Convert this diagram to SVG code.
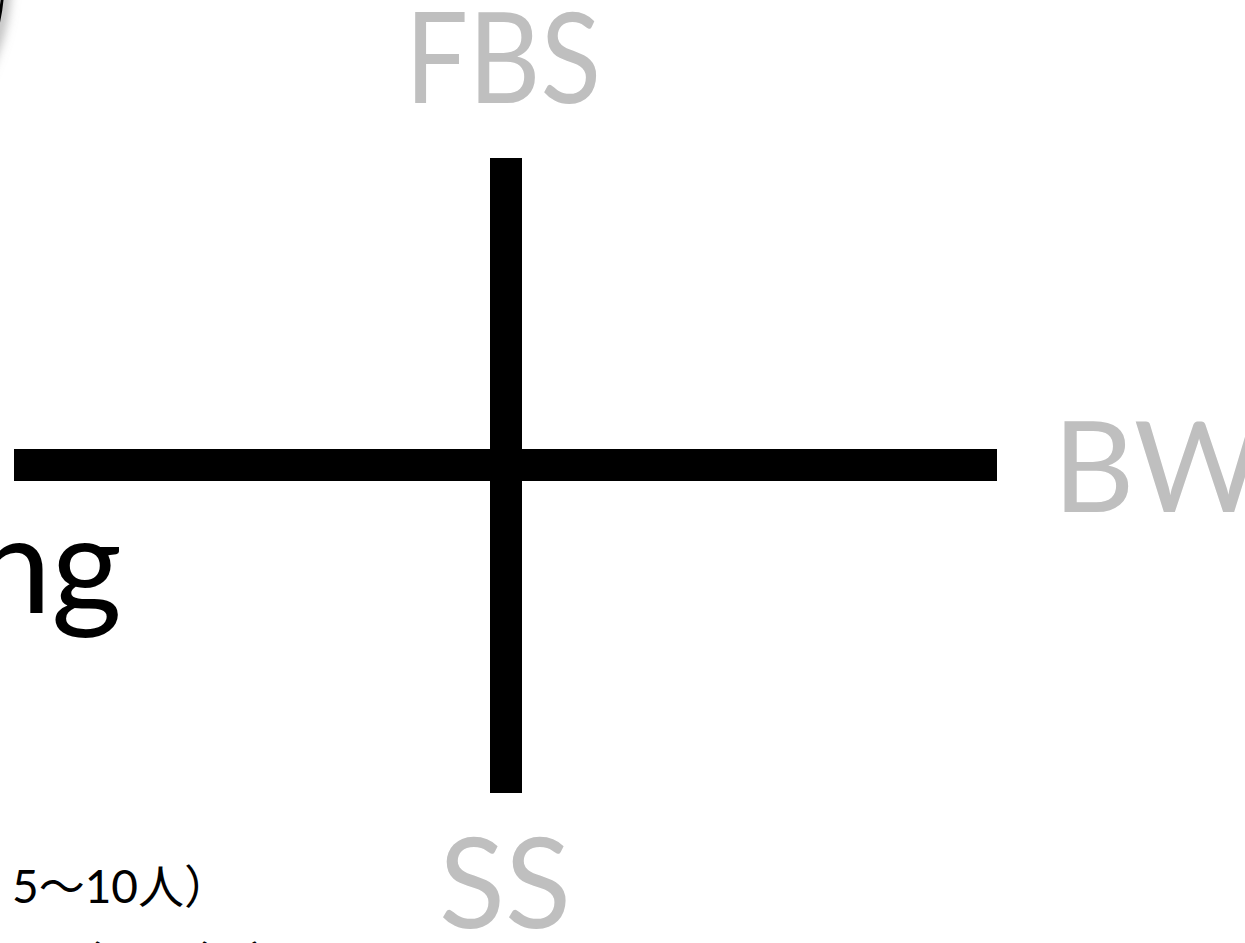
<svg xmlns="http://www.w3.org/2000/svg" width="1245" height="943" viewBox="0 0 1245 943">
<defs>
<style>
.axis{fill:#000}
.lbl{font-family:Lato,"Open Sans","Liberation Sans",sans-serif;fill:#bfbfbf;font-size:126px}
.blk{font-family:Lato,"Open Sans","Liberation Sans",sans-serif;fill:#000}
.jp{font-family:Lato,"Noto Sans CJK JP",sans-serif;fill:#000;font-size:46px}
</style>
<filter id="sh" x="-50%" y="-50%" width="200%" height="200%">
<feGaussianBlur stdDeviation="6"/>
</filter>
</defs>
<rect width="1245" height="943" fill="#fff"/>
<g id="corner-circle">
<circle cx="-200" cy="-20" r="205" fill="none" stroke="#999" stroke-width="8" filter="url(#sh)"/>
<circle cx="-200" cy="-20" r="203" fill="#fff" stroke="#000" stroke-width="3"/>
</g>
<g id="connectors">
<rect class="axis" x="490" y="158" width="32" height="635"/>
<rect class="axis" x="14" y="449" width="983" height="32"/>
</g>
<g id="node-fbs"><text class="lbl" x="405" y="103" textLength="196" lengthAdjust="spacingAndGlyphs">FBS</text></g>
<g id="node-bw"><text class="lbl" x="1053" y="512">BW</text></g>
<g id="node-ss"><text class="lbl" x="439" y="928" textLength="132" lengthAdjust="spacingAndGlyphs">SS</text></g>
<g id="node-ng"><text class="blk" x="122" y="613" font-size="136" text-anchor="end">ng</text></g>
<g id="note">
<text class="jp" x="12" y="903">5～10人）</text>
<text class="jp" x="0" y="980"><tspan x="56">（</tspan><tspan x="163">（</tspan><tspan x="250">）</tspan></text>
</g>
</svg>
